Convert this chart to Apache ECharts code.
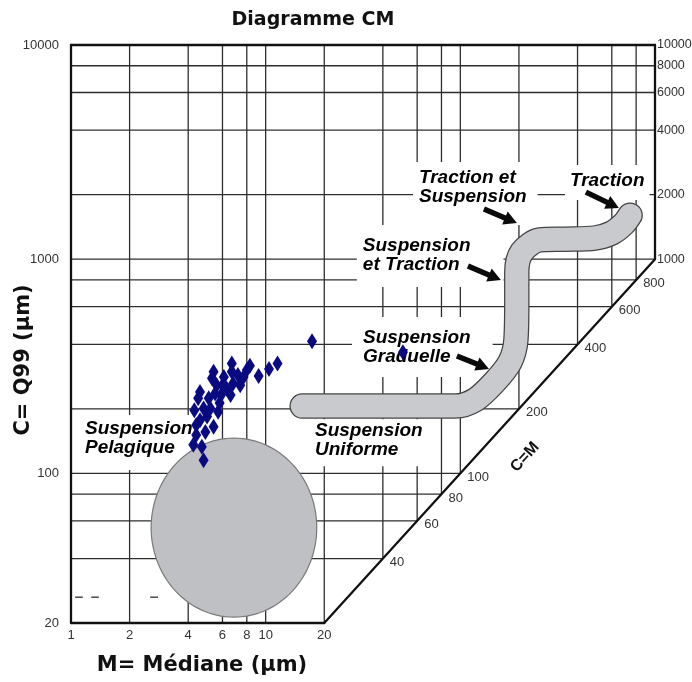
<!DOCTYPE html>
<html>
<head>
<meta charset="utf-8">
<script src="https://cdn.jsdelivr.net/npm/echarts@6/dist/echarts.min.js"></script>
<style>
  html, body { margin: 0; padding: 0; background: #fff; }
  #chart { width: 692px; height: 682px; }
</style>
</head>
<body>
<div id="chart"></div>
<script>
// Passega CM diagram: C (first percentile, Q99) against M (median), both in µm, log–log.

// Tick labels
const xTickLabels = [1, 2, 4, 6, 8, 10, 20];
const yTickLabelsLeft = [20, 100, 1000, 10000];
const yTickLabelsRight = [1000, 2000, 4000, 6000, 8000, 10000];
const diagTickLabels = [40, 60, 80, 100, 200, 400, 600, 800];

// Grid lines (vertical ones start on the C = M line, horizontal ones stop on it)
const gridM = [2, 4, 6, 8, 10, 20, 40, 60, 80, 100, 200, 400, 600, 800];
const gridC = [40, 60, 80, 100, 200, 400, 600, 800, 1000, 2000, 4000, 6000, 8000];
const dashC = 26.4;
const dashM = [[1.05, 1.15], [1.27, 1.39], [2.55, 2.8]];

// Samples (M, C in µm)
const sampleM = [11.5, 10.4, 9.2, 8.3, 8.0, 7.7, 6.7, 6.7, 6.1, 5.4, 5.3, 6.8, 6.3, 5.9, 5.6, 5.5, 5.1, 4.6, 4.5,
                 4.3, 4.8, 5.2, 5.7, 5.0, 4.6, 5.4, 4.9, 4.4, 4.25, 4.7, 4.8, 7.2, 6.0, 6.6, 5.8, 7.4, 4.4, 17.3, 50.7];
const sampleC = [326, 307, 285, 318, 304, 282, 326, 298, 282, 298, 278, 263, 249, 232, 258, 236, 224, 240, 224,
                 197, 201, 201, 194, 184, 177, 165, 156, 151, 136, 133, 115, 288, 258, 232, 213, 258, 168, 414, 368];

// Pelagic suspension field (bounding box in M and C)
const pelagicM = [2.58, 18.3];
const pelagicC = [21.3, 146];

// Traction / suspension band, centre line
const bandM = [15.4, 94, 119, 150, 180, 193, 195, 195, 207, 256, 345, 490, 600, 690, 745];
const bandC = [206, 206, 220, 267, 331, 420, 645, 870, 1080, 1230, 1240, 1255, 1325, 1460, 1605];

// Field names and their anchors (top-left of each label box)
const fieldNames = ['Traction et\nSuspension', 'Traction', 'Suspension\net Traction',
                    'Suspension\nGraduelle', 'Suspension\nUniforme', 'Suspension\nPelagique'];
const fieldM = [57.1, 344.5, 29.4, 27.75, 16.9, 1.073];
const fieldC = [2840, 2750, 1442, 537, 179, 187];

// Arrows from labels to the band
const arrowFromM = [441.7, 132.2, 109.4, 96.0];
const arrowFromC = [2056, 1713, 928, 353];
const arrowToM = [652.5, 195.3, 161.6, 140.3];
const arrowToC = [1732, 1474, 799, 307];

const FONT = "'Liberation Sans', Arial, Helvetica, sans-serif";
const HEAVY = "'DejaVu Sans', Verdana, sans-serif";

// label box paddings [top, right, bottom, left]; the white boxes interrupt the grid
const fieldPad = [[6, 11, 19, 6], [6, 5, 10, 5], [11, 33, 13, 6], [11, 22, 11, 11], [2, 7, 7, 5], [4, 6, 13, 8]];

const lineSegs = [];
gridM.forEach(m => lineSegs.push([m, Math.max(20, m), m, 10000, 0]));
gridC.forEach(c => lineSegs.push([1, c, Math.min(c, 1000), c, 0]));
dashM.forEach(d => lineSegs.push([d[0], dashC, d[1], dashC, 0]));
// outer frame and the C = M line
lineSegs.push([1, 20, 1, 10000, 1]);
lineSegs.push([1, 10000, 1000, 10000, 1]);
lineSegs.push([1000, 1000, 1000, 10000, 1]);
lineSegs.push([1, 20, 20, 20, 1]);
lineSegs.push([20, 20, 1000, 1000, 1]);

function renderSegment(params, api) {
  const a = api.coord([api.value(0), api.value(1)]);
  const b = api.coord([api.value(2), api.value(3)]);
  const heavy = api.value(4) === 1;
  return {
    type: 'line',
    shape: { x1: a[0], y1: a[1], x2: b[0], y2: b[1] },
    style: { stroke: heavy ? '#111' : '#2e2e2e', lineWidth: heavy ? 2.3 : 1.3, lineCap: heavy ? 'round' : 'butt' }
  };
}

function renderEllipse(params, api) {
  const p1 = api.coord([api.value(0), api.value(3)]);
  const p2 = api.coord([api.value(1), api.value(2)]);
  const cx = (p1[0] + p2[0]) / 2, cy = (p1[1] + p2[1]) / 2;
  const rx = Math.abs(p2[0] - p1[0]) / 2, ry = Math.abs(p2[1] - p1[1]) / 2;
  const pts = [];
  for (let i = 0; i < 120; i++) {
    const t = i / 120 * Math.PI * 2;
    pts.push([cx + rx * Math.cos(t), cy + ry * Math.sin(t)]);
  }
  return { type: 'polygon', shape: { points: pts }, style: { fill: '#bfc0c4', stroke: '#7a7a7a', lineWidth: 1.2 } };
}

function renderArrow(params, api) {
  const a = api.coord([api.value(0), api.value(1)]);
  const b = api.coord([api.value(2), api.value(3)]);
  const dx = b[0] - a[0], dy = b[1] - a[1];
  const L = Math.hypot(dx, dy), ux = dx / L, uy = dy / L, nx = -uy, ny = ux;
  const head = 13, hw = 7, sw = 2.7;
  const hx = b[0] - ux * head, hy = b[1] - uy * head;
  return {
    type: 'polygon',
    shape: { points: [
      [a[0] + nx * sw, a[1] + ny * sw], [hx + nx * sw, hy + ny * sw], [hx + nx * hw, hy + ny * hw],
      [b[0], b[1]],
      [hx - nx * hw, hy - ny * hw], [hx - nx * sw, hy - ny * sw], [a[0] - nx * sw, a[1] - ny * sw]
    ] },
    style: { fill: '#0a0a0a' }
  };
}

const hiddenItem = { color: 'rgba(0,0,0,0)', opacity: 1 };
const tickLabelStyle = { show: true, color: '#333', fontSize: 13, fontFamily: FONT, opacity: 1 };

const option = {
  animation: false,
  grid: { left: 71, top: 45, right: 37, bottom: 59 },
  xAxis: { type: 'log', logBase: 10, min: 1, max: 1000, show: false },
  yAxis: { type: 'log', logBase: 10, min: 20, max: 10000, show: false },
  graphic: [
    { type: 'text', x: 313, y: 20, silent: true,
      style: { text: 'Diagramme CM', font: 'bold 19px ' + HEAVY, fill: '#111', align: 'center', verticalAlign: 'middle' } },
    { type: 'text', x: 202, y: 666, silent: true,
      style: { text: 'M= Médiane (µm)', font: 'bold 21px ' + HEAVY, fill: '#111', align: 'center', verticalAlign: 'middle' } },
    { type: 'text', x: 24, y: 360, rotation: Math.PI / 2, silent: true,
      style: { text: 'C= Q99 (µm)', font: 'bold 21px ' + HEAVY, fill: '#111', align: 'center', verticalAlign: 'middle' } }
  ],
  series: [
    { // grid and frame
      type: 'custom', z: 1, silent: true, renderItem: renderSegment,
      data: lineSegs
    },
    { // field names on white boxes
      type: 'scatter', z: 3, silent: true, clip: false, symbolSize: 0,
      itemStyle: hiddenItem,
      data: fieldNames.map((n, i) => ({
        name: n, value: [fieldM[i], fieldC[i]],
        label: { padding: fieldPad[i] }
      })),
      label: {
        show: true, position: [0, 0], align: 'left', verticalAlign: 'top', opacity: 1,
        formatter: p => p.name,
        fontFamily: FONT, fontSize: 19, lineHeight: 19, fontWeight: 'bold', fontStyle: 'italic',
        color: '#000', backgroundColor: '#fff'
      }
    },
    { // pelagic suspension field
      type: 'custom', z: 4, silent: true, renderItem: renderEllipse,
      data: [[pelagicM[0], pelagicM[1], pelagicC[0], pelagicC[1]]]
    },
    { // band outline
      type: 'line', z: 5, silent: true, smooth: 0.3, showSymbol: false, symbol: 'none',
      data: bandM.map((m, i) => [m, bandC[i]]),
      lineStyle: { color: '#444', width: 25.5, cap: 'round', join: 'round' }
    },
    { // band fill
      type: 'line', z: 6, silent: true, smooth: 0.3, showSymbol: false, symbol: 'none',
      data: bandM.map((m, i) => [m, bandC[i]]),
      lineStyle: { color: '#c9cace', width: 23, cap: 'round', join: 'round' }
    },
    { // arrows
      type: 'custom', z: 7, silent: true, renderItem: renderArrow,
      data: arrowFromM.map((m, i) => [m, arrowFromC[i], arrowToM[i], arrowToC[i]])
    },
    { // samples
      type: 'scatter', z: 10, silent: true, clip: false,
      symbol: 'diamond', symbolSize: [10, 16],
      itemStyle: { color: '#0a0a80', opacity: 1 },
      data: sampleM.map((m, i) => [m, sampleC[i]])
    },
    { // x tick labels
      type: 'scatter', z: 2, silent: true, clip: false, symbolSize: 0,
      itemStyle: hiddenItem,
      data: xTickLabels.map(v => [v, 20]),
      label: Object.assign({}, tickLabelStyle, { position: 'bottom', distance: 6, formatter: p => String(p.value[0]) })
    },
    { // left y tick labels
      type: 'scatter', z: 2, silent: true, clip: false, symbolSize: 0,
      itemStyle: hiddenItem,
      data: yTickLabelsLeft.map(v => [1, v]),
      label: Object.assign({}, tickLabelStyle, { position: 'left', distance: 12, formatter: p => String(p.value[1]) })
    },
    { // right y tick labels
      type: 'scatter', z: 2, silent: true, clip: false, symbolSize: 0,
      itemStyle: hiddenItem,
      data: yTickLabelsRight.map(v => [1000, v]),
      label: Object.assign({}, tickLabelStyle, { position: 'right', distance: 2, fontSize: 12.5, formatter: p => String(p.value[1]) })
    },
    { // labels along the C = M line
      type: 'scatter', z: 2, silent: true, clip: false, symbolSize: 0,
      itemStyle: hiddenItem,
      data: diagTickLabels.map(v => [v, v]),
      label: Object.assign({}, tickLabelStyle, { position: 'right', distance: 7, offset: [0, 4], formatter: p => String(p.value[1]) })
    },
    { // C=M caption
      type: 'scatter', z: 2, silent: true, clip: false, symbolSize: 0,
      itemStyle: hiddenItem,
      data: [{ value: [215, 119], name: 'C=M' }],
      label: { show: true, position: 'inside', rotate: 48, formatter: p => p.name, opacity: 1,
               fontFamily: FONT, fontSize: 16, fontWeight: 'bold', color: '#111' }
    }
  ]
};

const chart = echarts.init(document.getElementById('chart'));
chart.setOption(option);
</script>
</body>
</html>
